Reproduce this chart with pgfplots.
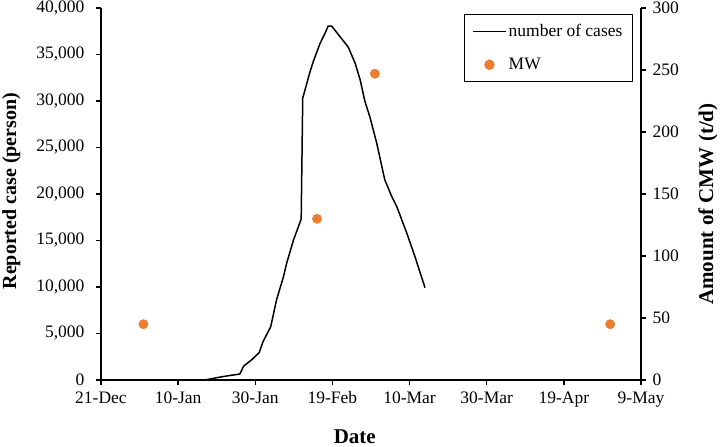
\documentclass[border=0pt]{standalone}
\usepackage{fontspec}
\setmainfont{Liberation Serif}
\usepackage{pgfplots}
\pgfplotsset{compat=1.18}
\definecolor{mwor}{HTML}{ED7D31}
\pgfplotsset{
  linelegend/.style={legend image code/.code={\draw[##1] (0bp,0bp) -- (33bp,0bp);}},
  marklegend/.style={legend image code/.code={\draw[mark repeat=2,mark phase=2,##1] plot coordinates {(0bp,0bp) (16.5bp,0bp) (33bp,0bp)};}},
}
\begin{document}
\begin{tikzpicture}
\useasboundingbox (-101bp,-67bp) rectangle (621bp,380bp);
\begin{axis}[
  scale only axis, width=540bp, height=372bp,
  xmin=0, xmax=140, ymin=0, ymax=40000,
  axis x line*=bottom, axis y line*=left,
  xtick={0,20,...,140},
  xticklabels={21-Dec,10-Jan,30-Jan,19-Feb,10-Mar,30-Mar,19-Apr,9-May},
  ytick={0,5000,...,40000},
  scaled y ticks=false,
  /pgf/number format/assume math mode=true,
  yticklabel style={/pgf/number format/.cd,1000 sep={,}},
  tick align=outside, major tick length=5bp,
  axis line style={line width=1.5bp},
  every tick/.style={line width=1.5bp, black},
  tick label style={font=\fontsize{17.5bp}{21bp}\selectfont},
  yticklabel shift=8bp,
  xticklabel shift=3bp,
  xlabel={Date},
  ylabel={Reported case (person)},
  every axis x label/.style={at={(axis description cs:0.47,-0.152)}, anchor=center, font=\bfseries\fontsize{21bp}{25bp}\selectfont},
  every axis y label/.style={at={(axis description cs:-0.166,0.508)}, rotate=90, anchor=center, font=\bfseries\fontsize{20bp}{24bp}\selectfont},
  legend style={at={(0.985,0.984)}, anchor=north east, draw=black, line width=1bp,
    font=\fontsize{17.5bp}{21bp}\selectfont, inner xsep=8bp, inner ysep=8bp, row sep=16bp},
  legend cell align=left,
]
\addplot[black, line width=1.5bp, linelegend]
  coordinates {
(27,0) (30,250) (33,460) (36,640) (37,1500) (39,2150) (41,2940) (42,4120)
(44,5730) (45.5,8600) (47.3,11100) (48.1,12500) (49.9,15050) (51.9,17300)
(52.3,30300) (54.2,33150) (55,34200) (56.8,36200) (58.1,37300) (58.9,38060)
(59.8,38060) (62,36900) (64.1,35800) (65.9,34050) (67.2,32260) (68.4,30000)
(69.7,28300) (71.5,25450) (73.2,22220) (73.6,21500) (75.4,19710) (76.7,18630)
(79.3,15770) (81.4,13260) (84,9925)
  };
\addlegendentry{number of cases}
\addlegendimage{only marks, mark=*, mark size=4.7bp, color=mwor, marklegend}
\addlegendentry{MW}
\end{axis}
\begin{axis}[
  scale only axis, width=540bp, height=372bp,
  xmin=0, xmax=140, ymin=0, ymax=300,
  axis x line=none, axis y line*=right,
  ytick={0,50,...,300},
  /pgf/number format/assume math mode=true,
  tick align=outside, major tick length=5bp,
  axis line style={line width=1.5bp},
  every tick/.style={line width=1.5bp, black},
  tick label style={font=\fontsize{17.5bp}{21bp}\selectfont},
  yticklabel shift=3bp,
  ylabel={Amount of CMW (t/d)},
  every axis y label/.style={at={(axis description cs:1.124,0.473)}, rotate=90, anchor=center, font=\bfseries\fontsize{21bp}{25bp}\selectfont},
]
\addplot[only marks, mark=*, mark size=4.7bp, color=mwor] coordinates {(11,45) (56,130) (71,247) (132,45)};
\end{axis}
\end{tikzpicture}
\end{document}
